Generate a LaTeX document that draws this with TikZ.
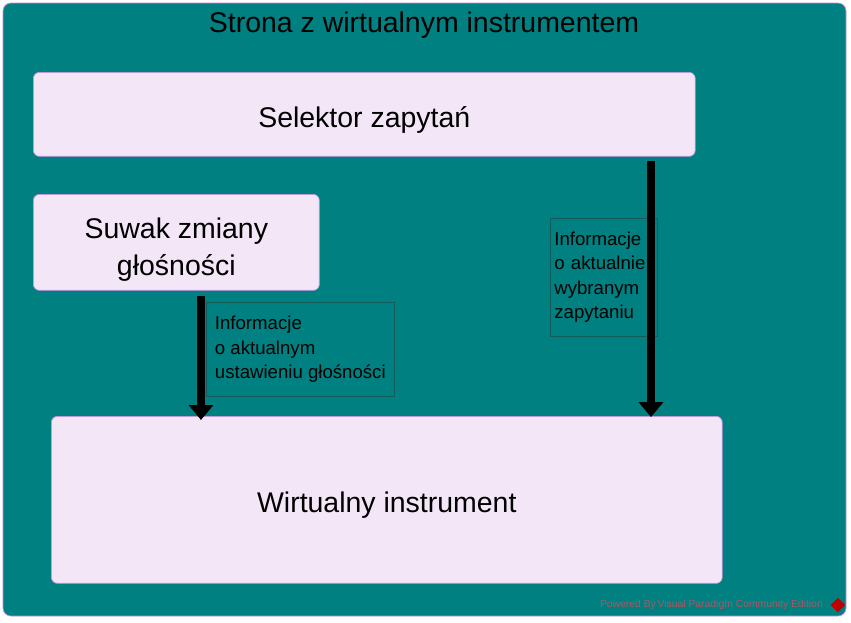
\documentclass[tikz,border=0pt]{standalone}
\usepackage{fontspec}
\setmainfont{Liberation Sans}
\definecolor{PageTeal}{RGB}{0,128,128}
\definecolor{BoxLilac}{RGB}{243,230,247}
\definecolor{EdgeViolet}{RGB}{200,140,222}
\definecolor{NoteEdge}{RGB}{20,92,92}
\definecolor{MarkGray}{RGB}{170,88,98}
\usetikzlibrary{arrows.meta, shapes.geometric, positioning}

\begin{document}
\begin{tikzpicture}[x=0.02cm, y=-0.02cm,
	bigfont/.style={font=\fontsize{16.2}{21}\selectfont},
	panel/.style={draw=EdgeViolet, fill=BoxLilac, rounded corners=0.12cm,
		anchor=north west, inner sep=0pt, align=center, bigfont,
		text height=14.8pt, text depth=0pt},
	note/.style={draw=NoteEdge, thin, anchor=north west, inner xsep=0.08cm,
		align=left, font=\fontsize{10.6}{13.9}\selectfont},
	flow/.style={line width=4.5pt,
		-{Triangle[width=13.6pt, length=8.5pt]}}]
	\useasboundingbox[fill=white] (0,0) rectangle (851,622);
	\draw[fill=PageTeal, draw=EdgeViolet, rounded corners=0.16cm] (3,3) rectangle (846,616);
	\node[bigfont] (title) at (424,25) {Strona z wirtualnym instrumentem};

	\node[panel, minimum width=13.24cm, minimum height=1.68cm] (sel) at (33,72) {Selektor zapytań};
	\node[panel, minimum width=5.72cm, minimum height=1.92cm,
		text height=37.5pt] (suwak) at (33,194) {Suwak zmiany\\głośności};
	\node[panel, minimum width=13.42cm, minimum height=3.34cm] (wirt) at (51,416) {Wirtualny instrument};

	\node[note, minimum width=3.76cm, minimum height=1.88cm] (n1) at (206,302)
		{Informacje\\o aktualnym\\ustawieniu głośności};
	\node[note, minimum width=2.14cm, minimum height=2.36cm, text width=1.98cm] (n2) at (550,218)
		{Informacje\\o aktualnie\\wybranym\\zapytaniu};

	\draw[flow, shorten <=0.1cm, shorten >=-0.08cm] (suwak.south -| 201,0) -- (wirt.north -| 201,0);
	\draw[flow, shorten <=0.08cm, shorten >=-0.02cm] (sel.south -| 651,0) -- (wirt.north -| 651,0);

	% znak wodny
	\node[anchor=east, text=MarkGray, font=\fontsize{5.9}{7}\selectfont] (wm) at (829,605)
		{Powered By\,Visual Paradigm Community Edition};
	\node[diamond, fill=red!75!black, inner sep=0pt, minimum size=0.3cm, right=0.02cm of wm] (logo) {};
\end{tikzpicture}
\end{document}
